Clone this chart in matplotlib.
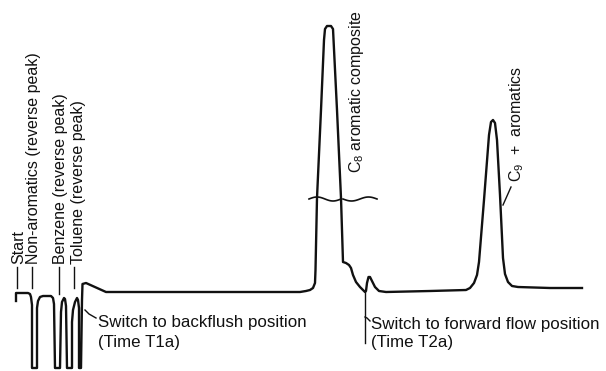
import matplotlib
matplotlib.use('Agg')
import matplotlib.pyplot as plt
import numpy as np

plt.rcParams['font.family'] = ['Liberation Sans', 'DejaVu Sans']
plt.rcParams['mathtext.fontset'] = 'custom'
plt.rcParams['mathtext.rm'] = 'Liberation Sans'
plt.rcParams['mathtext.it'] = 'Liberation Sans:italic'

# chromatogram trace: retention time (arbitrary units) and detector signal (baseline = 0)
time = [16, 16, 28, 30, 31, 32, 32, 37, 37, 38, 40, 43, 51, 53, 54, 55, 60, 61, 62, 64, 65, 66, 67, 72, 72, 73,
        75, 77, 78, 79, 79, 81, 82, 82.5, 86, 106, 200, 300, 306, 310, 313, 315, 315.5, 317, 321, 324, 325, 327,
        331, 333, 337, 341, 343, 346, 349, 351, 353, 356, 360, 363, 365, 366, 367, 368.5, 370, 372, 375, 379, 386,
        430, 466, 470, 474, 477, 479, 484, 489, 491, 493, 495, 497, 500, 503, 505, 508, 512, 518, 550, 582]
signal = [-9, -1, -1, -2, -5, -13, -76, -76, -16, -9, -5, -4, -4, -6, -12, -76, -76, -20, -10, -6, -7, -14, -76,
          -76, -30, -18, -10, -6, -8, -16, -76, -76, -8, 8, 9, 0, 0, 0, 1, 2, 4, 9, 22, 94, 182, 252, 263, 266,
          266, 263, 182, 94, 30, 29, 27, 24, 17, 10, 5, 2, 0, 1, 9, 15, 15, 11, 5, 1, 0, 1, 2, 4, 9, 17, 30, 92,
          157, 170, 172, 169, 152, 97, 34, 18, 10, 6, 5, 4, 4]

peak_labels = ['Start', 'Non-aromatics (reverse peak)', 'Benzene (reverse peak)', 'Toluene (reverse peak)']
peak_label_x = [19, 34, 60, 78]
peak_tick_x = [17, 32, 59, 74]

fig = plt.figure(figsize=(6.06, 3.71), dpi=100)
ax = fig.add_axes([0, 0, 1, 1])
ax.set_xlim(0, 606); ax.set_ylim(-79, 292); ax.axis('off')
k = '#111111'
fs = 11.5
fh = 12.2

ax.plot(time, signal, color=k, lw=1.7, solid_joinstyle='round')

# labels of the reverse peaks, written upward with a dash below
for lab, lx, tx in zip(peak_labels, peak_label_x, peak_tick_x):
    ax.text(lx, 28, lab, rotation=90, ha='center', va='bottom', fontsize=fs, color=k)
    ax.plot([tx, tx], [25, 4 if tx != 59 else -2], color=k, lw=1.0)

# valve switching marks
ax.plot([85, 89, 96], [-18, -22, -26], color=k, lw=1.0)
ax.text(98, -30, 'Switch to backflush position', fontsize=fh, va='center', color=k)
ax.text(98, -50, '(Time T1a)', fontsize=fh, va='center', color=k)
ax.plot([365, 365], [0, -51], color=k, lw=1.0)
ax.plot([365, 367, 370], [-25, -26, -29], color=k, lw=1.0)
ax.text(371, -32, 'Switch to forward flow position', fontsize=fh, va='center', color=k)
ax.text(371, -50, '(Time T2a)', fontsize=fh, va='center', color=k)

# axis-break marks across the C8 peak
xb = np.linspace(309, 341, 30)
ax.plot(xb, 93 + 2 * np.sin((xb - 309) / 32 * 2 * np.pi), color=k, lw=1.2)
xb = np.linspace(343, 377, 30)
ax.plot(xb, 93 - 2 * np.sin((xb - 343) / 34 * 2 * np.pi), color=k, lw=1.2)

ax.text(357, 119, 'C$_8$ aromatic composite', rotation=90, ha='center', va='bottom', fontsize=fs, color=k)
ax.plot([503, 511], [87, 105], color=k, lw=1.0)
ax.text(517, 110, 'C$_9$  +  aromatics', rotation=90, ha='center', va='bottom', fontsize=fs, color=k)

fig.savefig('out.png', dpi=100)
